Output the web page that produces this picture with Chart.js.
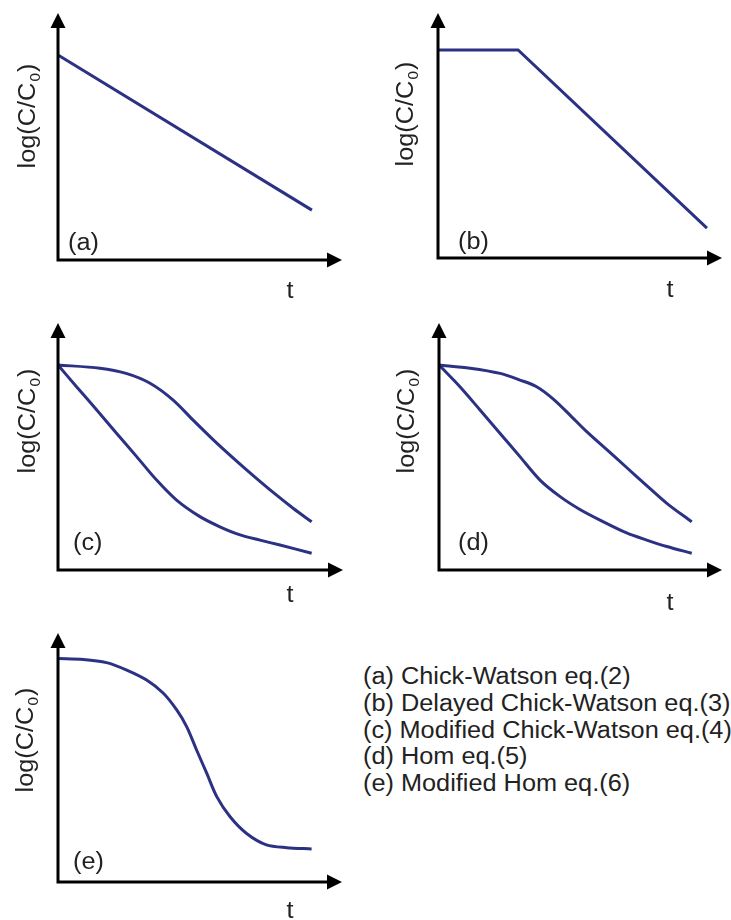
<!DOCTYPE html>
<html>
<head>
<meta charset="utf-8">
<script src="https://cdn.jsdelivr.net/npm/chart.js@4.4.1/dist/chart.umd.min.js"></script>
<style>
  body { margin: 0; background: #fff; }
  #wrap { position: relative; width: 731px; height: 920px; overflow: hidden; }
  canvas { position: absolute; }
  #legend {
    position: absolute; left: 363px; top: 663px;
    font-family: 'Liberation Sans', Arial, sans-serif; font-size: 23px;
    line-height: 26.75px; color: #222; white-space: nowrap;
    transform: scaleX(1.1); transform-origin: left top;
  }
</style>
</head>
<body>
<div id="wrap">
  <canvas id="pa" width="360" height="300" style="left:0;top:0"></canvas>
  <canvas id="pb" width="371" height="300" style="left:360px;top:0"></canvas>
  <canvas id="pc" width="360" height="320" style="left:0;top:300px"></canvas>
  <canvas id="pd" width="371" height="320" style="left:360px;top:300px"></canvas>
  <canvas id="pe" width="360" height="300" style="left:0;top:620px"></canvas>
  <div id="legend"></div>
</div>
<script>
// axis text
const yTitle = ['log(C/C', '0', ')'];
const xTitle = 't';
const panelTags = ['(a)', '(b)', '(c)', '(d)', '(e)'];
const legendLines = [
  '(a) Chick-Watson eq.(2)',
  '(b) Delayed Chick-Watson eq.(3)',
  '(c) Modified Chick-Watson eq.(4)',
  '(d) Hom eq.(5)',
  '(e) Modified Hom eq.(6)'
];

// (a) Chick-Watson
const tA = [0, 8.94];
const yA = [8.30, 2.02];
// (b) delayed
const tB = [0, 2.82, 9.47];
const yB = [8.49, 8.49, 1.22];
// (c) modified Chick-Watson, two curves
const tC1 = [0, 1.47, 2.39, 3.23, 4.04, 4.74, 5.45, 6.15, 6.85, 7.55, 8.26, 8.9];
const yC1 = [8.30, 8.17, 7.96, 7.56, 6.88, 6.07, 5.27, 4.53, 3.82, 3.14, 2.49, 1.95];
const tC2 = [0, 0.65, 1.36, 2.06, 2.76, 3.46, 4.16, 4.98, 5.68, 6.39, 7.09, 7.79, 8.9];
const yC2 = [8.30, 7.42, 6.48, 5.53, 4.59, 3.64, 2.83, 2.16, 1.75, 1.42, 1.21, 1.01, 0.68];
// (d) Hom, two curves
const tD1 = [0, 1.10, 2.16, 2.86, 3.45, 4.04, 4.63, 5.22, 5.92, 6.63, 7.34, 8.05, 8.93];
const yD1 = [8.30, 8.17, 7.96, 7.69, 7.42, 6.92, 6.27, 5.60, 4.88, 4.15, 3.42, 2.70, 1.95];
const tD2 = [0, 0.74, 1.45, 2.16, 2.86, 3.57, 4.28, 4.98, 5.69, 6.63, 7.34, 8.05, 8.93];
const yD2 = [8.30, 7.42, 6.48, 5.53, 4.59, 3.64, 2.97, 2.45, 2.02, 1.50, 1.21, 0.95, 0.68];
// (e) modified Hom
const tE = [0, 0.89, 1.71, 2.42, 3.12, 3.71, 4.18, 4.53, 4.88, 5.24, 5.59, 6.06, 6.64, 7.34, 8.05, 8.93];
const yE = [8.98, 8.94, 8.81, 8.51, 8.11, 7.58, 6.91, 6.24, 5.30, 4.36, 3.43, 2.62, 1.95, 1.49, 1.38, 1.33];

const LINE = '#2b3183';
const FONT = "'Liberation Sans', Arial, sans-serif";
const STRETCH = 1.1;

document.getElementById('legend').innerHTML = legendLines.map(s => `<div>${s}</div>`).join('');

const pts = (t, y) => t.map((v, i) => ({ x: v, y: y[i] }));

// axes with arrows, stretched text like the source figure
const arrowAxes = {
  id: 'arrowAxes',
  afterDatasetsDraw(chart, args, o) {
    const { ctx, chartArea: { left, top, right, bottom } } = chart;
    const L = 15, W = 7.5;
    ctx.save();
    ctx.strokeStyle = '#000';
    ctx.fillStyle = '#000';
    ctx.lineWidth = 3;
    ctx.lineJoin = 'miter';
    ctx.beginPath();
    ctx.moveTo(left, top + L - 1);
    ctx.lineTo(left, bottom);
    ctx.lineTo(right - L + 1, bottom);
    ctx.stroke();
    ctx.beginPath();
    ctx.moveTo(left, top);
    ctx.lineTo(left - W, top + L);
    ctx.lineTo(left + W, top + L);
    ctx.closePath();
    ctx.fill();
    ctx.beginPath();
    ctx.moveTo(right, bottom);
    ctx.lineTo(right - L, bottom - W);
    ctx.lineTo(right - L, bottom + W);
    ctx.closePath();
    ctx.fill();

    ctx.fillStyle = '#222';
    ctx.textBaseline = 'alphabetic';
    // panel tag
    ctx.save();
    ctx.translate(o.tag[0], o.tag[1]);
    ctx.scale(STRETCH, 1);
    ctx.font = `23px ${FONT}`;
    ctx.textAlign = 'left';
    ctx.fillText(o.tagText, 0, 0);
    ctx.restore();
    // x title
    ctx.save();
    ctx.translate(o.t[0], o.t[1]);
    ctx.scale(STRETCH, 1);
    ctx.font = `23px ${FONT}`;
    ctx.textAlign = 'center';
    ctx.fillText(xTitle, 0, 0);
    ctx.restore();
    // y title with subscript
    ctx.save();
    ctx.translate(o.y[0], o.y[1]);
    ctx.rotate(-Math.PI / 2);
    ctx.scale(STRETCH, 1);
    ctx.textAlign = 'left';
    ctx.font = `23px ${FONT}`;
    const w0 = ctx.measureText(yTitle[0]).width, w2 = ctx.measureText(yTitle[2]).width;
    ctx.font = `14px ${FONT}`;
    const w1 = ctx.measureText(yTitle[1]).width + 2;
    let x = -(w0 + w1 + w2) / 2;
    ctx.font = `23px ${FONT}`;
    ctx.fillText(yTitle[0], x, 8);
    ctx.font = `14px ${FONT}`;
    ctx.fillText(yTitle[1], x + w0 + 1, 13);
    ctx.font = `23px ${FONT}`;
    ctx.fillText(yTitle[2], x + w0 + w1, 8);
    ctx.restore();
    ctx.restore();
  }
};

function panel(id, series, pad, smooth, label) {
  new Chart(document.getElementById(id), {
    type: 'line',
    data: {
      datasets: series.map(s => ({
        data: pts(s[0], s[1]),
        borderColor: LINE,
        borderWidth: 3,
        pointRadius: 0,
        fill: false,
        clip: false,
        tension: smooth ? 0.3 : 0
      }))
    },
    options: {
      responsive: false,
      animation: false,
      events: [],
      layout: { padding: pad },
      scales: {
        x: { type: 'linear', min: 0, max: 10, display: false },
        y: { type: 'linear', min: 0, max: 10, display: false }
      },
      plugins: { legend: { display: false }, tooltip: { enabled: false }, arrowAxes: label }
    },
    plugins: [arrowAxes]
  });
}

panel('pa', [[tA, yA]], { left: 58, top: 13, right: 18, bottom: 40 }, false,
  { tagText: panelTags[0], tag: [68, 250], t: [290, 298], y: [27, 116] });
panel('pb', [[tB, yB]], { left: 78, top: 13, right: 9, bottom: 42 }, false,
  { tagText: panelTags[1], tag: [98, 249], t: [310, 297], y: [45, 114] });
panel('pc', [[tC1, yC1], [tC2, yC2]], { left: 58, top: 23, right: 17, bottom: 50 }, true,
  { tagText: panelTags[2], tag: [73, 250], t: [290, 302], y: [27, 121] });
panel('pd', [[tD1, yD1], [tD2, yD2]], { left: 79, top: 23, right: 9, bottom: 50 }, true,
  { tagText: panelTags[3], tag: [98, 250], t: [310, 310], y: [46, 121] });
panel('pe', [[tE, yE]], { left: 58, top: 13, right: 18, bottom: 38 }, true,
  { tagText: panelTags[4], tag: [73, 249], t: [290, 298], y: [25, 120] });
</script>
</body>
</html>
